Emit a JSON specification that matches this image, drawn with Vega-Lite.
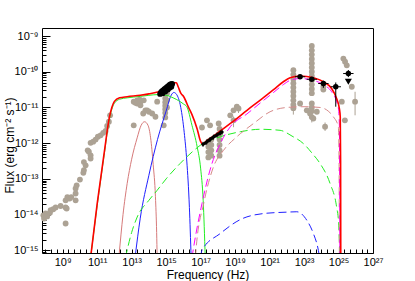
{
  "$schema": "https://vega.github.io/schema/vega-lite/v6.json",
  "width": 331,
  "height": 225,
  "autosize": {"type": "none"},
  "padding": {"left": 42, "top": 28, "right": 42, "bottom": 28},
  "background": "white",
  "config": {
    "view": {"stroke": "black", "strokeWidth": 1},
    "axis": {"grid": false, "domain": false, "tickColor": "black", "tickWidth": 1, "labelColor": "black", "titleColor": "black", "labelFont": "Liberation Sans", "titleFont": "Liberation Sans", "titleFontWeight": "normal"}
  },
  "datasets": {
    "gray": [
      {"nu": 7.59e7, "flux": 9.55e-15}, {"nu": 8.32e7, "flux": 7.76e-15}, {"nu": 1.02e8, "flux": 1.07e-14}, {"nu": 1.26e8, "flux": 8.91e-15},
      {"nu": 1.82e8, "flux": 1.12e-14}, {"nu": 2.0e8, "flux": 1.32e-14}, {"nu": 2.82e8, "flux": 1.41e-14}, {"nu": 3.89e8, "flux": 1.58e-14},
      {"nu": 7.59e8, "flux": 1.74e-14}, {"nu": 1.48e9, "flux": 2.51e-14}, {"nu": 1.48e9, "flux": 1.58e-14}, {"nu": 1.48e9, "flux": 5.62e-15},
      {"nu": 1.70e9, "flux": 1.48e-14}, {"nu": 1.86e9, "flux": 3.09e-14}, {"nu": 2.51e9, "flux": 2.82e-14}, {"nu": 3.16e9, "flux": 3.09e-14},
      {"nu": 5.62e9, "flux": 2.51e-14}, {"nu": 5.62e9, "flux": 3.89e-14}, {"nu": 5.62e9, "flux": 5.37e-14}, {"nu": 6.46e9, "flux": 6.61e-14},
      {"nu": 1e10, "flux": 9.55e-14}, {"nu": 1.58e10, "flux": 1.48e-13}, {"nu": 1.70e10, "flux": 1.74e-13}, {"nu": 1.70e10, "flux": 2.95e-13},
      {"nu": 2.14e10, "flux": 2.40e-13}, {"nu": 2.82e10, "flux": 6.31e-13}, {"nu": 3.31e10, "flux": 5.75e-13}, {"nu": 4.17e10, "flux": 4.57e-13},
      {"nu": 4.17e10, "flux": 3.72e-13}, {"nu": 4.17e10, "flux": 1.02e-12}, {"nu": 5.89e10, "flux": 1.10e-12}, {"nu": 8.13e10, "flux": 1.26e-12},
      {"nu": 1.10e11, "flux": 1.51e-12}, {"nu": 1.58e11, "flux": 1.66e-12}, {"nu": 2.24e11, "flux": 1.95e-12}, {"nu": 3.09e11, "flux": 2.19e-12},
      {"nu": 3.80e11, "flux": 3.02e-12}, {"nu": 4.79e11, "flux": 3.98e-12}, {"nu": 5.62e11, "flux": 6.03e-12},
      {"nu": 1.32e13, "flux": 3.16e-12}, {"nu": 1.32e13, "flux": 1.45e-11}, {"nu": 1.66e13, "flux": 1.35e-11}, {"nu": 2.09e13, "flux": 1.58e-11},
      {"nu": 2.09e13, "flux": 1.29e-11}, {"nu": 2.95e13, "flux": 1.66e-11}, {"nu": 3.24e13, "flux": 1.45e-11}, {"nu": 3.24e13, "flux": 1.15e-11},
      {"nu": 4.68e13, "flux": 6.76e-12}, {"nu": 5.01e13, "flux": 1.58e-11}, {"nu": 6.31e13, "flux": 8.32e-12}, {"nu": 7.94e13, "flux": 8.32e-12},
      {"nu": 1e14, "flux": 7.59e-12}, {"nu": 1.55e14, "flux": 6.76e-12}, {"nu": 2.4e14, "flux": 5.5e-12}, {"nu": 3.02e14, "flux": 1.45e-11},
      {"nu": 7.24e14, "flux": 3.16e-12}, {"nu": 8.91e14, "flux": 2.82e-11}, {"nu": 8.91e14, "flux": 2.24e-11}, {"nu": 8.91e14, "flux": 1.78e-11},
      {"nu": 8.91e14, "flux": 1.41e-11}, {"nu": 8.91e14, "flux": 1.12e-11}, {"nu": 8.91e14, "flux": 8.91e-12}, {"nu": 8.91e14, "flux": 7.08e-12},
      {"nu": 8.91e14, "flux": 5.25e-12}, {"nu": 1.12e15, "flux": 2.51e-11}, {"nu": 1.12e15, "flux": 1.58e-11}, {"nu": 1.12e15, "flux": 1e-11},
      {"nu": 1.2e17, "flux": 2.75e-12}, {"nu": 2.34e17, "flux": 4.37e-12}, {"nu": 2.82e17, "flux": 1.12e-12}, {"nu": 2.82e17, "flux": 7.94e-13},
      {"nu": 2.82e17, "flux": 5.62e-13}, {"nu": 2.82e17, "flux": 3.98e-13}, {"nu": 3.55e17, "flux": 3.16e-12}, {"nu": 4.17e17, "flux": 1.26e-12},
      {"nu": 4.17e17, "flux": 8.91e-13}, {"nu": 4.17e17, "flux": 6.31e-13}, {"nu": 4.17e17, "flux": 4.47e-13}, {"nu": 1.12e18, "flux": 3.55e-12},
      {"nu": 1.26e18, "flux": 2.51e-12}, {"nu": 1.26e18, "flux": 1.78e-12}, {"nu": 1.26e18, "flux": 1.26e-12}, {"nu": 1.26e18, "flux": 8.91e-13},
      {"nu": 1.26e18, "flux": 6.31e-13}, {"nu": 1.26e18, "flux": 4.47e-13}, {"nu": 5.25e18, "flux": 6.03e-12}, {"nu": 8.13e18, "flux": 4.37e-12},
      {"nu": 8.13e18, "flux": 8.32e-12}, {"nu": 1.26e19, "flux": 1.05e-11}, {"nu": 1.58e19, "flux": 9.33e-12},
      {"nu": 2.4e22, "flux": 1.10e-10}, {"nu": 2.4e22, "flux": 8.32e-11}, {"nu": 2.4e22, "flux": 6.31e-11}, {"nu": 2.4e22, "flux": 4.79e-11},
      {"nu": 2.4e22, "flux": 3.63e-11}, {"nu": 2.4e22, "flux": 2.75e-11}, {"nu": 2.4e22, "flux": 2.09e-11}, {"nu": 2.4e22, "flux": 1.58e-11},
      {"nu": 2.4e22, "flux": 1.20e-11}, {"nu": 2.4e22, "flux": 9.55e-12}, {"nu": 5.89e22, "flux": 1.29e-11},
      {"nu": 2.82e23, "flux": 5.25e-10}, {"nu": 2.82e23, "flux": 3.98e-10}, {"nu": 2.82e23, "flux": 3.02e-10}, {"nu": 2.82e23, "flux": 2.29e-10},
      {"nu": 2.82e23, "flux": 1.74e-10}, {"nu": 2.82e23, "flux": 1.32e-10}, {"nu": 2.82e23, "flux": 1e-10}, {"nu": 2.82e23, "flux": 7.59e-11},
      {"nu": 2.82e23, "flux": 5.75e-11}, {"nu": 2.82e23, "flux": 4.37e-11}, {"nu": 2.82e23, "flux": 3.31e-11}, {"nu": 2.82e23, "flux": 2.51e-11},
      {"nu": 2.82e23, "flux": 1.29e-11}, {"nu": 2.82e23, "flux": 1e-11}, {"nu": 2.82e23, "flux": 7.94e-12}, {"nu": 2.82e23, "flux": 5.37e-12},
      {"nu": 1.45e23, "flux": 8.32e-12}, {"nu": 2.24e23, "flux": 6.76e-12}, {"nu": 3.47e23, "flux": 4.9e-12}, {"nu": 5.5e23, "flux": 7.59e-12},
      {"nu": 1.32e24, "flux": 3.8e-11}, {"nu": 1.32e24, "flux": 3.16e-11}, {"nu": 1.66e24, "flux": 2.88e-12}, {"nu": 1.55e25, "flux": 1.45e-11},
      {"nu": 2.34e25, "flux": 4.37e-12}, {"nu": 1.91e25, "flux": 2.34e-10}, {"nu": 2.4e25, "flux": 1.91e-10}, {"nu": 3.02e25, "flux": 1.51e-10},
      {"nu": 5.89e25, "flux": 3.8e-11}, {"nu": 9.12e25, "flux": 1.45e-11}
    ],
    "grayV": [
      {"nu": 8.13e18, "flux": 2.8e-12, "flux2": 5.6e-12}, {"nu": 2.4e22, "flux": 6.31e-12, "flux2": 1.2e-11},
      {"nu": 1.66e24, "flux": 2.2e-12, "flux2": 3.8e-12}, {"nu": 9.12e25, "flux": 6.03e-12, "flux2": 2.75e-11},
      {"nu": 2.82e23, "flux": 3.8e-12, "flux2": 6.5e-12}, {"nu": 1.58e19, "flux": 7e-12, "flux2": 1.2e-11}
    ],
    "optical": [
      {"nu": 4.47e14, "flux": 2.40e-11}, {"nu": 5.01e14, "flux": 2.63e-11}, {"nu": 5.62e14, "flux": 2.82e-11}, {"nu": 6.31e14, "flux": 2.51e-11},
      {"nu": 6.61e14, "flux": 3.02e-11}, {"nu": 7.94e14, "flux": 3.24e-11}, {"nu": 8.91e14, "flux": 2.82e-11}, {"nu": 9.55e14, "flux": 3.47e-11},
      {"nu": 1.12e15, "flux": 3.72e-11}, {"nu": 1.26e15, "flux": 3.16e-11}, {"nu": 1.32e15, "flux": 3.98e-11}, {"nu": 1.58e15, "flux": 4.27e-11},
      {"nu": 1.58e15, "flux": 3.55e-11}, {"nu": 1.86e15, "flux": 4.47e-11}, {"nu": 2.0e15, "flux": 3.8e-11}, {"nu": 2.24e15, "flux": 4.57e-11}
    ],
    "xray": [
      {"nu": 1.38e17, "flux": 9.33e-13}, {"nu": 1.78e17, "flux": 1e-12}, {"nu": 2.24e17, "flux": 1.07e-12}, {"nu": 2.82e17, "flux": 1.17e-12},
      {"nu": 3.55e17, "flux": 1.26e-12}, {"nu": 4.47e17, "flux": 1.38e-12}, {"nu": 5.62e17, "flux": 1.48e-12}, {"nu": 7.08e17, "flux": 1.58e-12},
      {"nu": 8.91e17, "flux": 1.70e-12}, {"nu": 1.12e18, "flux": 1.82e-12}, {"nu": 1.41e18, "flux": 1.95e-12}, {"nu": 1.74e18, "flux": 2.04e-12}
    ],
    "xrayH": [
      {"nu": 1.23e17, "nu2": 1.55e17, "flux": 9.33e-13}, {"nu": 2.0e17, "nu2": 2.51e17, "flux": 1.07e-12}, {"nu": 3.16e17, "nu2": 3.98e17, "flux": 1.26e-12},
      {"nu": 5.0e17, "nu2": 6.3e17, "flux": 1.48e-12}, {"nu": 7.9e17, "nu2": 1.0e18, "flux": 1.70e-12}, {"nu": 1.26e18, "nu2": 1.58e18, "flux": 1.95e-12},
      {"nu": 1.55e18, "nu2": 1.95e18, "flux": 2.04e-12}
    ],
    "xrayV": [
      {"nu": 1.38e17, "flux": 7.9e-13, "flux2": 1.09e-12}, {"nu": 2.24e17, "flux": 9.1e-13, "flux2": 1.25e-12}, {"nu": 3.55e17, "flux": 1.07e-12, "flux2": 1.47e-12},
      {"nu": 5.62e17, "flux": 1.26e-12, "flux2": 1.73e-12}, {"nu": 8.91e17, "flux": 1.45e-12, "flux2": 1.99e-12}, {"nu": 1.41e18, "flux": 1.66e-12, "flux2": 2.28e-12},
      {"nu": 1.74e18, "flux": 1.74e-12, "flux2": 2.39e-12}
    ],
    "fermi": [
      {"nu": 5.89e22, "flux": 7.24e-11}, {"nu": 2.82e23, "flux": 6.17e-11}, {"nu": 1.32e24, "flux": 4.68e-11},
      {"nu": 6.92e24, "flux": 3.8e-11}, {"nu": 3.72e25, "flux": 8.91e-11}
    ],
    "fermiH": [
      {"nu": 2.95e22, "nu2": 1.18e23, "flux": 7.24e-11}, {"nu": 1.41e23, "nu2": 5.64e23, "flux": 6.17e-11}, {"nu": 6.6e23, "nu2": 2.64e24, "flux": 4.68e-11},
      {"nu": 3.46e24, "nu2": 1.38e25, "flux": 3.8e-11}, {"nu": 1.86e25, "nu2": 7.44e25, "flux": 8.91e-11}
    ],
    "fermiV": [
      {"nu": 5.89e22, "flux": 6.6e-11, "flux2": 7.9e-11}, {"nu": 2.82e23, "flux": 5.6e-11, "flux2": 6.8e-11}, {"nu": 1.32e24, "flux": 3.55e-11, "flux2": 5.62e-11},
      {"nu": 6.92e24, "flux": 1.05e-11, "flux2": 5.01e-11}, {"nu": 3.72e25, "flux": 7.08e-11, "flux2": 1.12e-10}
    ],
    "ul": [{"nu": 3.72e25, "flux": 5.25e-11}],
    "pink": [
      {"nu": 1.82e12, "flux": 6.31e-16}, {"nu": 3.16e12, "flux": 1e-14}, {"nu": 5.5e12, "flux": 7.41e-14}, {"nu": 1e13, "flux": 3.55e-13},
      {"nu": 2.09e13, "flux": 1.41e-12}, {"nu": 3.55e13, "flux": 3.16e-12}, {"nu": 5.62e13, "flux": 3.98e-12}, {"nu": 8.91e13, "flux": 3.16e-12},
      {"nu": 1.26e14, "flux": 1.41e-12}, {"nu": 1.78e14, "flux": 2.51e-13}, {"nu": 2.4e14, "flux": 3.16e-14}, {"nu": 2.82e14, "flux": 3.16e-15},
      {"nu": 3.02e14, "flux": 6.31e-16}
    ],
    "blue": [
      {"nu": 1.58e13, "flux": 6.31e-16}, {"nu": 3.16e13, "flux": 7.94e-15}, {"nu": 1e14, "flux": 1.26e-13}, {"nu": 3.16e14, "flux": 1.26e-12},
      {"nu": 1e15, "flux": 7.94e-12}, {"nu": 2e15, "flux": 2.24e-11}, {"nu": 2.82e15, "flux": 2.63e-11}, {"nu": 3.98e15, "flux": 2.34e-11},
      {"nu": 7.08e15, "flux": 1e-11}, {"nu": 1.12e16, "flux": 2.0e-12}, {"nu": 1.58e16, "flux": 3.16e-13}, {"nu": 2.24e16, "flux": 1.58e-14},
      {"nu": 2.82e16, "flux": 6.31e-16}
    ],
    "green": [
      {"nu": 4.17e10, "flux": 6.31e-16}, {"nu": 1e11, "flux": 1.78e-14}, {"nu": 2.51e11, "flux": 4.47e-13}, {"nu": 5.01e11, "flux": 4.47e-12},
      {"nu": 7.08e11, "flux": 8.91e-12}, {"nu": 1e12, "flux": 1.32e-11}, {"nu": 2e12, "flux": 1.70e-11}, {"nu": 5.5e12, "flux": 1.86e-11},
      {"nu": 3.16e13, "flux": 2.04e-11}, {"nu": 1e14, "flux": 2.19e-11}, {"nu": 3.16e14, "flux": 2.29e-11}, {"nu": 1e15, "flux": 2.19e-11},
      {"nu": 2.82e15, "flux": 1.82e-11}, {"nu": 1e16, "flux": 1.26e-11}, {"nu": 1.58e16, "flux": 1.05e-11}, {"nu": 3.16e16, "flux": 3.16e-12},
      {"nu": 6.31e16, "flux": 7.94e-13}, {"nu": 1e17, "flux": 2.0e-13}, {"nu": 1.41e17, "flux": 2.51e-14}, {"nu": 1.86e17, "flux": 6.31e-16}
    ],
    "greenDash": [
      {"nu": 4.37e12, "flux": 6.31e-16}, {"nu": 1e13, "flux": 3.16e-15}, {"nu": 2.09e13, "flux": 8.51e-15}, {"nu": 1e14, "flux": 2.51e-14},
      {"nu": 3.02e14, "flux": 4.79e-14}, {"nu": 1e15, "flux": 1e-13}, {"nu": 6.46e15, "flux": 2.69e-13}, {"nu": 3.16e16, "flux": 5.62e-13},
      {"nu": 9.55e16, "flux": 8.71e-13}, {"nu": 1.38e18, "flux": 1.51e-12}, {"nu": 2.0e19, "flux": 2.09e-12}, {"nu": 2.88e20, "flux": 2.45e-12},
      {"nu": 4.07e21, "flux": 2.29e-12}, {"nu": 2.0e22, "flux": 1.58e-12}, {"nu": 9.12e22, "flux": 9.77e-13}, {"nu": 3.16e23, "flux": 5.01e-13},
      {"nu": 8.51e23, "flux": 2.69e-13}, {"nu": 3.24e24, "flux": 7.41e-14}, {"nu": 7.76e24, "flux": 1.62e-14}, {"nu": 1e25, "flux": 6.31e-15},
      {"nu": 1.2e25, "flux": 6.31e-16}
    ],
    "blueDash": [
      {"nu": 1e17, "flux": 6.31e-16}, {"nu": 1.2e17, "flux": 1e-15}, {"nu": 1.38e18, "flux": 2.95e-15}, {"nu": 2.0e19, "flux": 7.24e-15},
      {"nu": 4.47e20, "flux": 1.07e-14}, {"nu": 1e22, "flux": 1.17e-14}, {"nu": 3.8e22, "flux": 1.2e-14}, {"nu": 1.45e23, "flux": 6.92e-15},
      {"nu": 3.47e23, "flux": 2.95e-15}, {"nu": 6.76e23, "flux": 1e-15}, {"nu": 7.94e23, "flux": 6.31e-16}
    ],
    "rosyDash": [
      {"nu": 5.01e16, "flux": 6.31e-16}, {"nu": 5.62e16, "flux": 1.26e-15}, {"nu": 1.51e17, "flux": 2.04e-14}, {"nu": 5.62e17, "flux": 2.19e-13},
      {"nu": 2.14e18, "flux": 6.31e-13}, {"nu": 1.26e19, "flux": 1.51e-12}, {"nu": 1.17e20, "flux": 3.55e-12}, {"nu": 1.07e21, "flux": 7.59e-12},
      {"nu": 1e22, "flux": 1e-11}, {"nu": 1e23, "flux": 1.05e-11}, {"nu": 8.51e23, "flux": 1e-11}, {"nu": 2.51e24, "flux": 7.94e-12},
      {"nu": 5.01e24, "flux": 5.5e-12}, {"nu": 9.77e24, "flux": 2.88e-12}, {"nu": 1.07e25, "flux": 3.16e-13}, {"nu": 1.12e25, "flux": 6.31e-16}
    ],
    "magentaDash": [
      {"nu": 3.16e16, "flux": 6.31e-16}, {"nu": 3.98e16, "flux": 1.26e-15}, {"nu": 1.2e17, "flux": 2.04e-14}, {"nu": 4.57e17, "flux": 2.69e-13},
      {"nu": 1.38e18, "flux": 9.77e-13}, {"nu": 5.25e18, "flux": 2.88e-12}, {"nu": 4.9e19, "flux": 6.61e-12}, {"nu": 3.16e20, "flux": 1.38e-11},
      {"nu": 1.7e21, "flux": 2.63e-11}, {"nu": 6.31e21, "flux": 4.37e-11}, {"nu": 1.55e22, "flux": 5.75e-11}, {"nu": 5.89e22, "flux": 6.46e-11},
      {"nu": 3.47e23, "flux": 5.75e-11}, {"nu": 1.32e24, "flux": 4.37e-11}, {"nu": 3.98e24, "flux": 2.75e-11}, {"nu": 7.76e24, "flux": 1.45e-11},
      {"nu": 1e25, "flux": 8.91e-12}, {"nu": 1.12e25, "flux": 3.16e-12}, {"nu": 1.2e25, "flux": 6.31e-16}
    ],
    "red": [
      {"nu": 4.17e10, "flux": 6.31e-16}, {"nu": 1e11, "flux": 2.0e-14}, {"nu": 2.51e11, "flux": 5.01e-13}, {"nu": 5.01e11, "flux": 5.01e-12},
      {"nu": 7.08e11, "flux": 1e-11}, {"nu": 1e12, "flux": 1.48e-11}, {"nu": 2e12, "flux": 1.86e-11}, {"nu": 5.5e12, "flux": 2.0e-11},
      {"nu": 3.16e13, "flux": 2.19e-11}, {"nu": 1e14, "flux": 2.40e-11}, {"nu": 3.72e14, "flux": 2.75e-11}, {"nu": 7.94e14, "flux": 3.16e-11},
      {"nu": 1.26e15, "flux": 3.80e-11}, {"nu": 1.78e15, "flux": 4.37e-11}, {"nu": 2.82e15, "flux": 4.90e-11}, {"nu": 3.98e15, "flux": 4.90e-11},
      {"nu": 5.01e15, "flux": 3.80e-11}, {"nu": 7.08e15, "flux": 2.51e-11}, {"nu": 1.05e16, "flux": 2.0e-11}, {"nu": 2.0e16, "flux": 1e-11},
      {"nu": 3.16e16, "flux": 6.31e-12}, {"nu": 6.31e16, "flux": 2.51e-12}, {"nu": 1e17, "flux": 1.12e-12}, {"nu": 1.41e17, "flux": 9.12e-13},
      {"nu": 2.0e17, "flux": 1.10e-12}, {"nu": 3.98e17, "flux": 1.41e-12}, {"nu": 1.38e18, "flux": 2.19e-12}, {"nu": 1e19, "flux": 4.47e-12},
      {"nu": 4.9e19, "flux": 8.32e-12}, {"nu": 3.16e20, "flux": 1.66e-11}, {"nu": 1.7e21, "flux": 3.16e-11}, {"nu": 6.31e21, "flux": 5.25e-11},
      {"nu": 1.55e22, "flux": 6.76e-11}, {"nu": 5.89e22, "flux": 7.59e-11}, {"nu": 3.47e23, "flux": 6.76e-11}, {"nu": 1.32e24, "flux": 5.25e-11},
      {"nu": 3.98e24, "flux": 3.39e-11}, {"nu": 7.76e24, "flux": 1.78e-11}, {"nu": 1.12e25, "flux": 9.33e-12}, {"nu": 1.26e25, "flux": 5.5e-12},
      {"nu": 1.32e25, "flux": 3.16e-13}, {"nu": 1.35e25, "flux": 6.31e-16}
    ]
  },
  "encoding": {
    "x": {
      "field": "nu", "type": "quantitative",
      "scale": {"type": "log", "domain": [6.31e7, 1e27], "nice": false},
      "axis": {
        "title": "Frequency (Hz)", "titleFontSize": 12, "titleY": 21, "titleBaseline": "middle",
        "values": [1e8,2.154e8,4.642e8,1e9,2.154e9,4.642e9,1e10,2.154e10,4.642e10,1e11,2.154e11,4.642e11,1e12,2.154e12,4.642e12,1e13,2.154e13,4.642e13,1e14,2.154e14,4.642e14,1e15,2.154e15,4.642e15,1e16,2.154e16,4.642e16,1e17,2.154e17,4.642e17,1e18,2.154e18,4.642e18,1e19,2.154e19,4.642e19,1e20,2.154e20,4.642e20,1e21,2.154e21,4.642e21,1e22,2.154e22,4.642e22,1e23,2.154e23,4.642e23,1e24,2.154e24,4.642e24,1e25,2.154e25,4.642e25,1e26,2.154e26,4.642e26,1e27],
        "tickSize": -4, "labelPadding": 7, "labelFontSize": 11,
        "labelOverlap": false, "labelFlush": false, "labelBound": false,
        "labelExpr": "abs(log(datum.value)/LN10 - round(log(datum.value)/LN10)) < 0.001 && round(log(datum.value)/LN10) % 2 == 1 ? '10' + replace(replace(replace(replace(replace(replace(replace(replace(replace(replace(replace('' + round(log(datum.value)/LN10), '-', '⁻'), regexp('0','g'), '⁰'), regexp('1','g'), '¹'), regexp('2','g'), '²'), regexp('3','g'), '³'), regexp('4','g'), '⁴'), regexp('5','g'), '⁵'), regexp('6','g'), '⁶'), regexp('7','g'), '⁷'), regexp('8','g'), '⁸'), regexp('9','g'), '⁹') : ''"
      }
    },
    "y": {
      "field": "flux", "type": "quantitative",
      "scale": {"type": "log", "domain": [8.4e-16, 1.68e-9], "nice": false},
      "axis": {
        "title": "Flux (erg cm⁻² s⁻¹)", "titleFontSize": 12, "titleX": -33, "titleY": 117, "titleAngle": -90, "titleAlign": "center", "titleBaseline": "middle",
        "values": [9e-16,1e-15,2e-15,3e-15,4e-15,5e-15,6e-15,7e-15,8e-15,9e-15,1e-14,2e-14,3e-14,4e-14,5e-14,6e-14,7e-14,8e-14,9e-14,1e-13,2e-13,3e-13,4e-13,5e-13,6e-13,7e-13,8e-13,9e-13,1e-12,2e-12,3e-12,4e-12,5e-12,6e-12,7e-12,8e-12,9e-12,1e-11,2e-11,3e-11,4e-11,5e-11,6e-11,7e-11,8e-11,9e-11,1e-10,2e-10,3e-10,4e-10,5e-10,6e-10,7e-10,8e-10,9e-10,1e-9],
        "tickSize": {"condition": {"test": "abs(log(datum.value)/LN10 - round(log(datum.value)/LN10)) < 0.001", "value": -8}, "value": -4},
        "labelPadding": 12, "labelFontSize": 11, "labelOverlap": false, "labelFlush": false, "labelBound": false,
        "labelExpr": "abs(log(datum.value)/LN10 - round(log(datum.value)/LN10)) < 0.001 ? '10' + replace(replace(replace(replace(replace(replace(replace(replace(replace(replace(replace('' + round(log(datum.value)/LN10), '-', '⁻'), regexp('0','g'), '⁰'), regexp('1','g'), '¹'), regexp('2','g'), '²'), regexp('3','g'), '³'), regexp('4','g'), '⁴'), regexp('5','g'), '⁵'), regexp('6','g'), '⁶'), regexp('7','g'), '⁷'), regexp('8','g'), '⁸'), regexp('9','g'), '⁹') : ''"
      }
    }
  },
  "layer": [
    {"data": {"name": "gray"}, "mark": {"type": "point", "shape": "circle", "filled": true, "color": "#aca294", "opacity": 1, "size": 34}},
    {"data": {"name": "grayV"}, "mark": {"type": "rule", "color": "#aca294", "strokeWidth": 1}, "encoding": {"y2": {"field": "flux2"}}},
    {"data": {"name": "pink"}, "mark": {"type": "line", "color": "#d67a7a", "strokeWidth": 1, "interpolate": "monotone", "clip": true}},
    {"data": {"name": "blue"}, "mark": {"type": "line", "color": "#2020ff", "strokeWidth": 1, "interpolate": "monotone", "clip": true}},
    {"data": {"name": "green"}, "mark": {"type": "line", "color": "#22ee22", "strokeWidth": 1, "interpolate": "monotone", "clip": true}},
    {"data": {"name": "greenDash"}, "mark": {"type": "line", "color": "#22ee22", "strokeWidth": 1, "strokeDash": [8, 4], "interpolate": "monotone", "clip": true}},
    {"data": {"name": "blueDash"}, "mark": {"type": "line", "color": "#2020ff", "strokeWidth": 1, "strokeDash": [8, 4], "interpolate": "monotone", "clip": true}},
    {"data": {"name": "rosyDash"}, "mark": {"type": "line", "color": "#d68a8a", "strokeWidth": 1, "strokeDash": [8, 4], "interpolate": "monotone", "clip": true}},
    {"data": {"name": "magentaDash"}, "mark": {"type": "line", "color": "#ff00ff", "strokeWidth": 1, "strokeDash": [8, 4], "interpolate": "monotone", "clip": true}},
    {"data": {"name": "red"}, "mark": {"type": "line", "color": "#ff0000", "strokeWidth": 1.6, "interpolate": "monotone", "clip": true}},
    {"data": {"name": "optical"}, "mark": {"type": "point", "shape": "circle", "filled": true, "color": "black", "opacity": 1, "size": 34}},
    {"data": {"name": "xrayH"}, "mark": {"type": "rule", "color": "black", "strokeWidth": 1}, "encoding": {"x2": {"field": "nu2"}}},
    {"data": {"name": "xrayV"}, "mark": {"type": "rule", "color": "black", "strokeWidth": 1}, "encoding": {"y2": {"field": "flux2"}}},
    {"data": {"name": "xray"}, "mark": {"type": "point", "shape": "circle", "filled": true, "color": "black", "opacity": 1, "size": 12}},
    {"data": {"name": "fermiH"}, "mark": {"type": "rule", "color": "black", "strokeWidth": 1}, "encoding": {"x2": {"field": "nu2"}}},
    {"data": {"name": "fermiV"}, "mark": {"type": "rule", "color": "black", "strokeWidth": 1}, "encoding": {"y2": {"field": "flux2"}}},
    {"data": {"name": "fermi"}, "mark": {"type": "point", "shape": "circle", "filled": true, "color": "black", "opacity": 1, "size": 30}},
    {"data": {"name": "ul"}, "mark": {"type": "point", "shape": "triangle-down", "filled": true, "color": "black", "opacity": 1, "size": 50}}
  ]
}
